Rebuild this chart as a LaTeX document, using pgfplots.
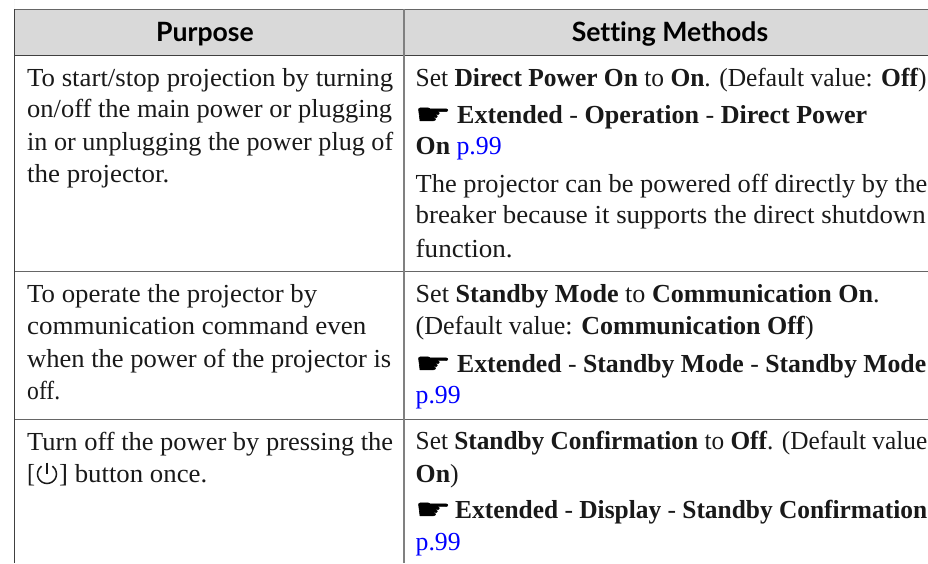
\documentclass[border=0pt]{standalone}
\usepackage{fontspec}
\usepackage{graphicx}
\setmainfont{Liberation Serif}
\newfontfamily\headfont[Ligatures=NoCommon]{Lato}
\newfontfamily\symfont[FakeBold=1.5]{DejaVu Sans}
\usepackage{pgfplots}
\pgfplotsset{compat=1.18}
\definecolor{linkblue}{HTML}{0000FF}
\definecolor{headgray}{HTML}{D9D9D9}
% x, baseline y, target width, text
\newcommand{\T}[4]{\node[anchor=base west,inner sep=0pt,font=\fontsize{26}{30}\selectfont,text=black!90] at (axis cs:#1,#2) {\resizebox{#3pt}{\height}{#4}};}
\newcommand{\hand}[2]{\node[anchor=base west,inner sep=0pt,font=\fontsize{29}{30}\selectfont] at (axis cs:#1,#2+1) {\scalebox{1.38}[0.98]{\symfont\char"261B}};}
\newcommand{\link}{\textcolor{linkblue}{p.99}}
\begin{document}
\begin{tikzpicture}
\path[use as bounding box,clip] (0,0) rectangle (928pt,563pt);
\begin{axis}[
  at={(0,0)},anchor=south west,
  scale only axis,width=928pt,height=563pt,
  xmin=0,xmax=928,ymin=0,ymax=563,y dir=reverse,
  hide axis,clip=false]
\addplot[fill=headgray,draw=none] coordinates {(14.5,9) (928,9) (928,55) (14.5,55)} \closedcycle;
\addplot[color=black!60,line width=1pt] coordinates {(14.5,9) (928,9)};
\addplot[color=black!75,line width=1pt] coordinates {(14.5,55) (928,55)};
\addplot[color=black!60,line width=1pt] coordinates {(14.5,271.5) (928,271.5)};
\addplot[color=black!60,line width=1pt] coordinates {(14.5,419.5) (928,419.5)};
\addplot[color=black!75,line width=1pt] coordinates {(14.5,9) (14.5,563)};
\addplot[color=black!50,line width=1.6pt] coordinates {(404,9) (404,563)};
% power symbol
\addplot[color=black!90,line width=1.5pt,smooth] coordinates {(52.45,466.2) (55.23,469.25) (56.5,474) (55.23,478.75) (51.75,482.23) (47,483.5) (42.25,482.23) (38.77,478.75) (37.5,474) (38.77,469.25) (41.55,466.2)};
\addplot[color=black!90,line width=1.5pt] coordinates {(47,462.5) (47,474)};
\node[font=\headfont\bfseries\fontsize{26.6}{30}\selectfont,anchor=base,inner sep=0pt] at (axis cs:205,41) {Purpose};
\node[font=\headfont\bfseries\fontsize{26.6}{30}\selectfont,anchor=base,inner sep=0pt] at (axis cs:670,41) {Setting Methods};
% left column
\T{27}{86}{366}{To start/stop projection by turning}
\T{27}{117}{365}{on/off the main power or plugging}
\T{27}{150}{366}{in or unplugging the power plug of}
\T{27}{182}{142}{the projector.}
\T{27}{302.5}{290}{To operate the projector by}
\T{27}{334}{339}{communication command even}
\T{27}{367}{364}{when the power of the projector is}
\T{27}{399}{33}{off.}
\T{27}{450}{366}{Turn off the power by pressing the}
\T{27}{482}{8}{[}
\T{59}{482}{148}{] button once.}
% right column
\T{415.5}{86}{511}{Set \textbf{Direct Power On} to \textbf{On}. (Default value: \textbf{Off})}
\hand{415}{123}
\T{457}{123}{410}{\textbf{Extended} - \textbf{Operation} - \textbf{Direct Power}}
\T{415.5}{154}{86}{\textbf{On} \link}
\T{415.5}{192}{511.5}{The projector can be powered off directly by the}
\T{415.5}{223}{510}{breaker because it supports the direct shutdown}
\T{415.5}{257}{97}{function.}
\T{415.5}{302}{464}{Set \textbf{Standby Mode} to \textbf{Communication On}.}
\T{415.5}{334}{398}{(Default value: \textbf{Communication Off})}
\hand{415}{372}
\T{457}{372}{469}{\textbf{Extended} - \textbf{Standby Mode} - \textbf{Standby Mode}}
\T{415.5}{403}{45}{\link}
\T{415.5}{449}{511.5}{Set \textbf{Standby Confirmation} to \textbf{Off}. (Default value}
\T{415.5}{482}{43}{\textbf{On})}
\hand{415}{518}
\T{455}{518}{472}{\textbf{Extended} - \textbf{Display} - \textbf{Standby Confirmation}}
\T{415.5}{550}{45}{\link}
\end{axis}
\end{tikzpicture}
\end{document}
